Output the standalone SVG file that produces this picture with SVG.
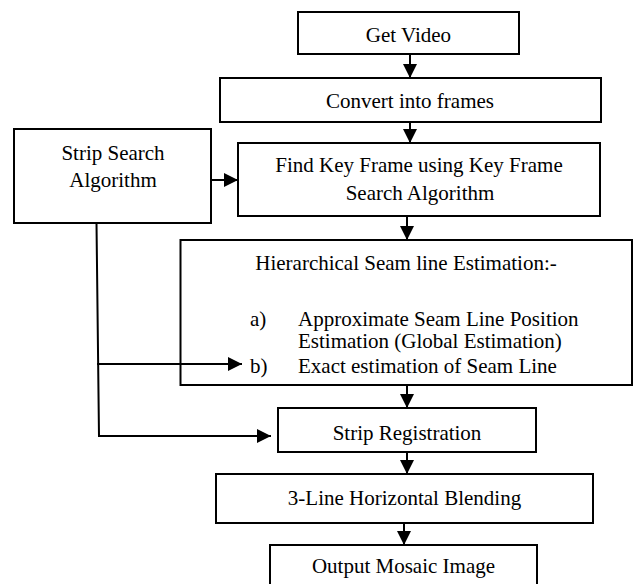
<svg xmlns="http://www.w3.org/2000/svg" width="634" height="584" viewBox="0 0 634 584">
<defs>
<style>
.box{fill:#fff;stroke:#000;stroke-width:2}
.t{font-family:"Liberation Serif","Times New Roman",serif;font-size:21px;fill:#000}
.c{text-anchor:middle}
.ln{fill:none;stroke:#000;stroke-width:2}
</style>
<marker id="ah" viewBox="0 0 14 14" refX="14" refY="7" markerWidth="14" markerHeight="14" markerUnits="userSpaceOnUse" orient="auto">
<path d="M0,0 L14,7 L0,14 Z" fill="#000"/>
</marker>
</defs>
<rect width="634" height="584" fill="#fff"/>
<g id="get-video"><rect class="box" x="298" y="12" width="221" height="42"/><text class="t c" x="408.5" y="42">Get Video</text></g>
<g id="convert"><rect class="box" x="220" y="78" width="381" height="44"/><text class="t c" x="410" y="108">Convert into frames</text></g>
<g id="strip-search"><rect class="box" x="14" y="129" width="197" height="94"/><text class="t c" x="113" y="160">Strip Search</text><text class="t c" x="113" y="187">Algorithm</text></g>
<g id="key-frame"><rect class="box" x="238" y="143" width="362" height="73"/><text class="t c" x="419" y="172">Find Key Frame using Key Frame</text><text class="t c" x="420" y="200">Search Algorithm</text></g>
<g id="hierarchical"><rect class="box" x="180.5" y="240" width="451.5" height="145"/>
<text class="t c" x="406" y="270">Hierarchical Seam line Estimation:-</text>
<text class="t" x="250" y="326">a)</text><text class="t" x="298" y="326">Approximate Seam Line Position</text>
<text class="t" x="298" y="348">Estimation (Global Estimation)</text>
<text class="t" x="250" y="373">b)</text><text class="t" x="298" y="373">Exact estimation of Seam Line</text></g>
<g id="strip-registration"><rect class="box" x="278" y="408" width="258" height="44"/><text class="t c" x="407" y="440">Strip Registration</text></g>
<g id="blending"><rect class="box" x="216" y="474" width="377" height="49"/><text class="t c" x="404.5" y="505">3-Line Horizontal Blending</text></g>
<g id="output"><rect class="box" x="270" y="545" width="267" height="50"/><text class="t c" x="403.5" y="573">Output Mosaic Image</text></g>
<g id="connectors">
<line class="ln" x1="410" y1="54" x2="410" y2="78" marker-end="url(#ah)"/>
<line class="ln" x1="410" y1="122" x2="410" y2="143" marker-end="url(#ah)"/>
<line class="ln" x1="407" y1="216" x2="407" y2="240" marker-end="url(#ah)"/>
<line class="ln" x1="407" y1="385" x2="407" y2="408" marker-end="url(#ah)"/>
<line class="ln" x1="407" y1="452" x2="407" y2="474" marker-end="url(#ah)"/>
<line class="ln" x1="404" y1="523" x2="404" y2="545" marker-end="url(#ah)"/>
<line class="ln" x1="211" y1="180" x2="238" y2="180" marker-end="url(#ah)"/>
<line class="ln" x1="97" y1="364" x2="242" y2="364" marker-end="url(#ah)"/>
<polyline class="ln" points="96.5,223 99,436 271,436" marker-end="url(#ah)"/>
</g>
</svg>
